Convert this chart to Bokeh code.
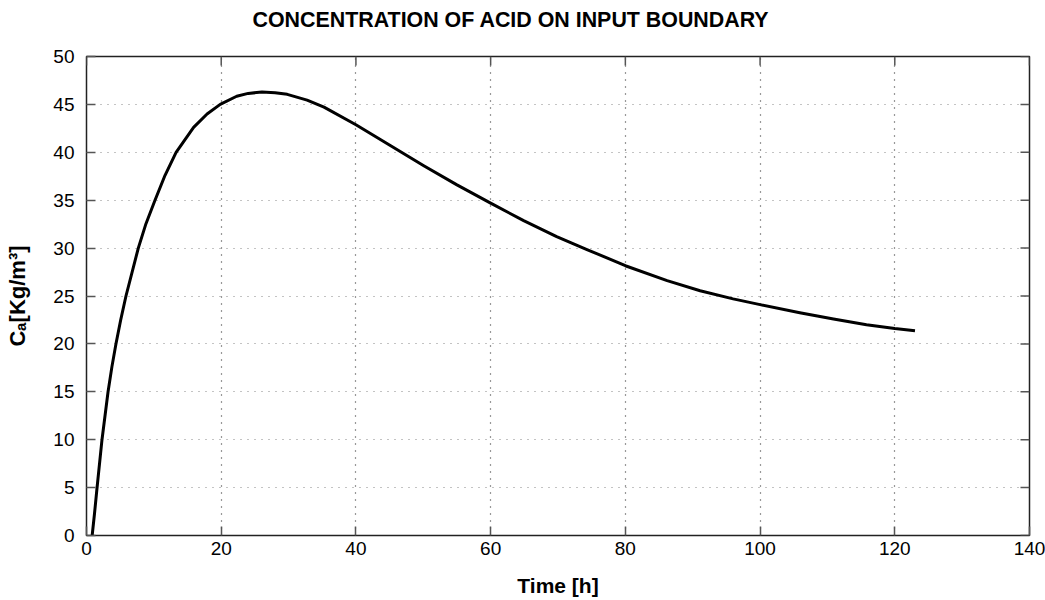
import math
from bokeh.plotting import figure
from bokeh.models import Range1d, FixedTicker, LinearAxis
from bokeh.embed import file_html
from bokeh.resources import INLINE

time_h = [0.84, 1.19, 1.54, 2.3, 3.2, 3.77, 4.37, 5.06, 5.86, 7.69, 8.83, 10.17,
          11.66, 13.3, 15.9, 17.9, 19.85, 22.3, 24.0, 26.05, 28.0, 29.8, 32.75, 35.26,
          40.0, 45.1, 50.07, 55.0, 60.0, 64.9, 69.8, 74.3, 77.7, 80.0, 86.2, 91.1,
          96.0, 100.0, 105.9, 110.9, 115.8, 120.0, 123.0]
conc = [0.0, 2.3, 4.8, 10.0, 15.0, 17.6, 20.0, 22.45, 25.0, 30.0, 32.55, 35.0,
        37.6, 40.0, 42.6, 44.0, 45.0, 45.85, 46.15, 46.29, 46.22, 46.05, 45.45, 44.72,
        42.87, 40.71, 38.6, 36.6, 34.69, 32.87, 31.2, 29.85, 28.85, 28.16, 26.6, 25.55,
        24.7, 24.1, 23.25, 22.6, 22.0, 21.6, 21.37]

x_ticks = [0, 20, 40, 60, 80, 100, 120, 140]
y_ticks = [0, 5, 10, 15, 20, 25, 30, 35, 40, 45, 50]
title_text = "CONCENTRATION OF ACID ON INPUT BOUNDARY"
x_label = "Time [h]"
y_label = "Cₐ[Kg/m³]"

FONT = "Liberation Sans"
TICK_COL = "#555555"

p = figure(width=1045, height=600, output_backend="svg", toolbar_location=None,
           x_range=Range1d(0, 140), y_range=Range1d(0, 50), title=title_text)
p.min_border_left = 86
p.min_border_right = 16
p.min_border_top = 56
p.min_border_bottom = 65
p.background_fill_color = "white"
p.border_fill_color = "white"
p.outline_line_color = "#222222"
p.outline_line_width = 1.5

p.title.text_font = FONT
p.title.text_font_size = "21.4px"
p.title.text_font_style = "bold"
p.title.text_color = "black"
p.title.align = "left"
p.title.offset = 166
p.title.standoff = 0

p.line(time_h, conc, line_color="black", line_width=3, line_join="round")

xa = p.below[0]
ya = p.left[0]
xa.ticker = FixedTicker(ticks=x_ticks)
ya.ticker = FixedTicker(ticks=y_ticks)
for ax in (xa, ya):
    ax.major_tick_in = 9
    ax.major_tick_out = 0
    ax.minor_tick_line_color = None
    ax.major_tick_line_color = TICK_COL
    ax.major_tick_line_width = 1.5
    ax.axis_line_color = None
    ax.major_label_text_font = FONT
    ax.major_label_text_font_size = "19px"
    ax.major_label_text_color = "black"
    ax.axis_label_text_font = FONT
    ax.axis_label_text_font_style = "bold"
    ax.axis_label_text_color = "black"
xa.axis_label = x_label
ya.axis_label = y_label
xa.axis_label_text_font_size = "21px"
ya.axis_label_text_font_size = "22px"
xa.major_label_standoff = 6
ya.major_label_standoff = 12
xa.axis_label_standoff = 16
ya.axis_label_standoff = 20

# invisible spacer between frame and title (transparent outward ticks, no labels)
spacer = LinearAxis(ticker=FixedTicker(ticks=x_ticks), major_tick_in=0, major_tick_out=25,
                    major_tick_line_alpha=0.0, minor_tick_line_color=None,
                    axis_line_color=None, major_label_text_color=None,
                    major_label_standoff=0)
p.add_layout(spacer, "above")

# mirrored ticks on right and top edges
p.ray(x=[x_ticks[-1]] * len(y_ticks), y=y_ticks, length=9, length_units="screen",
      angle=math.pi, line_color=TICK_COL, line_width=1.5)
p.ray(x=x_ticks, y=[y_ticks[-1]] * len(x_ticks), length=9, length_units="screen",
      angle=-math.pi / 2, line_color=TICK_COL, line_width=1.5)

p.xgrid.ticker = FixedTicker(ticks=x_ticks)
p.ygrid.ticker = FixedTicker(ticks=y_ticks)
p.xgrid.grid_line_color = "#333333"
p.ygrid.grid_line_color = "#888888"
p.xgrid.grid_line_dash = "1 6"
p.ygrid.grid_line_dash = "1 6"
p.xgrid.grid_line_width = 1.2
p.ygrid.grid_line_width = 1.2

open("out.html", "w").write(file_html(p, INLINE))
